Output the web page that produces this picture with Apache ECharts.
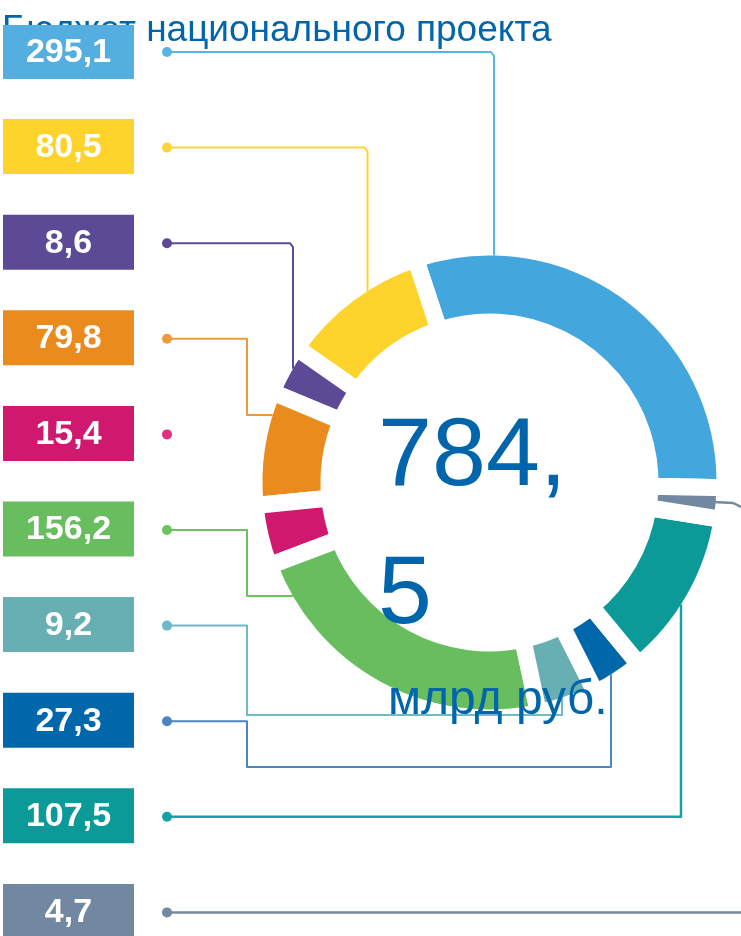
<!DOCTYPE html>
<html>
<head>
<meta charset="utf-8">
<script src="https://cdn.jsdelivr.net/npm/echarts@6/dist/echarts.min.js"></script>
<style>
  html, body { margin: 0; padding: 0; background: #fff; }
  #chart { width: 741px; height: 936px; }
</style>
</head>
<body>
<div id="chart"></div>
<script>
// values shown in the boxes (млрд руб.)
var values = [295.1, 80.5, 8.6, 79.8, 15.4, 156.2, 9.2, 27.3, 107.5, 4.7];
// drawn share of the ring for each part, degrees (read off the picture, not proportional)
var arcSpan = [109.6, 36.8, 12.3, 28.2, 15.1, 81.3, 14.8, 12.6, 41.6, 7.7];
var colors = ['#43a6dd', '#fed42c', '#5d4a96', '#ea8b1e', '#d0186f',
              '#68be5f', '#68afb3', '#0067ab', '#0b9a98', '#7188a0'];
var boxColors = ['#54afe0', '#fed42c', '#5d4a96', '#ea8b1e', '#d0186f',
                 '#68be5f', '#68afb3', '#0067ab', '#0b9a98', '#7188a0'];
var lineColors = ['#5ab4e3', '#fdd43a', '#5d4a96', '#ee9a3c', '#e0327e',
                  '#6cc160', '#6dbac8', '#4a86c0', '#17a0a7', '#7589a0'];
var titleText = 'Бюджет национального проекта';
var totalText = '784,5';
var unitText = 'млрд руб.';

(function () {
    var chart = echarts.init(document.getElementById('chart'));

    var cx = 489.5, cy = 482.5, R = 227, gap = 17;
    var blue = '#0065ab';

    function topOf(x) { return cy - Math.sqrt(R * R - (x - cx) * (x - cx)); }
    function bottomOf(x) { return cy + Math.sqrt(R * R - (x - cx) * (x - cx)); }
    function leftOf(y) { return cx - Math.sqrt(R * R - (y - cy) * (y - cy)); }

    // connector routing
    var routes = [
        { type: 'down', x: 494 },
        { type: 'down', x: 367.5 },
        { type: 'down', x: 293 },
        { type: 'right', x: 247, y: 415 },
        null,
        { type: 'right', x: 247, y: 596 },
        { type: 'up', x: 247, y: 715, x2: 562 },
        { type: 'up', x: 247, y: 767, x2: 611 },
        { type: 'up', x2: 681 },
        { type: 'edge' }
    ];

    var dotX = 167;
    var elements = [];

    elements.push({
        type: 'text', z: 0,
        style: { text: titleText, x: 2, y: 31, font: '37px "Liberation Sans", Arial, sans-serif',
                 fill: blue, textAlign: 'left', textVerticalAlign: 'middle' }
    });

    for (var i = 0; i < values.length; i++) {
        var boxY = (i === 0 ? 25 : 23.5 + i * 95.6);
        var boxH = (i === 0 ? 54 : 55);
        var dy = 23.5 + i * 95.6 + 28.5;
        elements.push({
            type: 'rect', z: 5,
            shape: { x: 3, y: boxY, width: 131, height: boxH },
            style: { fill: boxColors[i] }
        });
        elements.push({
            type: 'text', z: 6,
            style: { text: String(values[i]).replace('.', ','), x: 68.5, y: boxY + boxH / 2 + 1,
                     font: 'bold 34px "Liberation Sans", Arial, sans-serif',
                     fill: '#fff', textAlign: 'center', textVerticalAlign: 'middle' }
        });
        elements.push({
            type: 'circle', z: 12,
            shape: { cx: dotX, cy: dy, r: 5 },
            style: { fill: lineColors[i] }
        });
        var r = routes[i];
        if (!r) continue;
        var pts;
        if (r.type === 'down') {
            pts = [[dotX, dy], [r.x - 3, dy], [r.x, dy + 4], [r.x, topOf(r.x)]];
        } else if (r.type === 'right') {
            pts = [[dotX, dy], [r.x, dy], [r.x, r.y], [leftOf(r.y), r.y]];
        } else if (r.type === 'up') {
            if (r.x) pts = [[dotX, dy], [r.x, dy], [r.x, r.y], [r.x2, r.y], [r.x2, bottomOf(r.x2)]];
            else pts = [[dotX, dy], [r.x2, dy], [r.x2, bottomOf(r.x2)]];
        } else {
            pts = [[dotX, dy], [741, dy]];
            elements.push({
                type: 'polyline', z: 11,
                shape: { points: [[714, 502], [733, 503], [741, 507]] },
                style: { stroke: lineColors[i], lineWidth: 2.5, fill: null }
            });
        }
        elements.push({
            type: 'polyline', z: 11,
            shape: { points: pts },
            style: { stroke: lineColors[i], lineWidth: (i >= 8 ? 2.5 : 2), fill: null, lineJoin: 'round' }
        });
    }

    var parts = totalText.split(',');
    elements.push({
        type: 'text', z: 20,
        style: { text: parts[0] + ',', x: 378, y: 458, font: '97px "Liberation Sans", Arial, sans-serif',
                 fill: blue, textAlign: 'left', textVerticalAlign: 'middle' }
    });
    elements.push({
        type: 'text', z: 20,
        style: { text: parts[1], x: 378, y: 596, font: '97px "Liberation Sans", Arial, sans-serif',
                 fill: blue, textAlign: 'left', textVerticalAlign: 'middle' }
    });
    elements.push({
        type: 'text', z: 20,
        style: { text: unitText, x: 388, y: 701, font: '48px "Liberation Sans", Arial, sans-serif',
                 fill: blue, textAlign: 'left', textVerticalAlign: 'middle' }
    });

    var option = {
        animation: false,
        graphic: { elements: elements },
        series: [{
            type: 'pie',
            silent: true,
            center: [cx, cy],
            radius: [169 - gap / 2, R + gap / 2],
            startAngle: -1.3,
            clockwise: false,
            label: { show: false },
            labelLine: { show: false },
            itemStyle: { borderColor: '#fff', borderWidth: gap },
            data: arcSpan.map(function (s, k) {
                return { value: s, name: String(values[k]), itemStyle: { color: colors[k] } };
            })
        }]
    };

    chart.setOption(option);
})();
</script>
</body>
</html>
